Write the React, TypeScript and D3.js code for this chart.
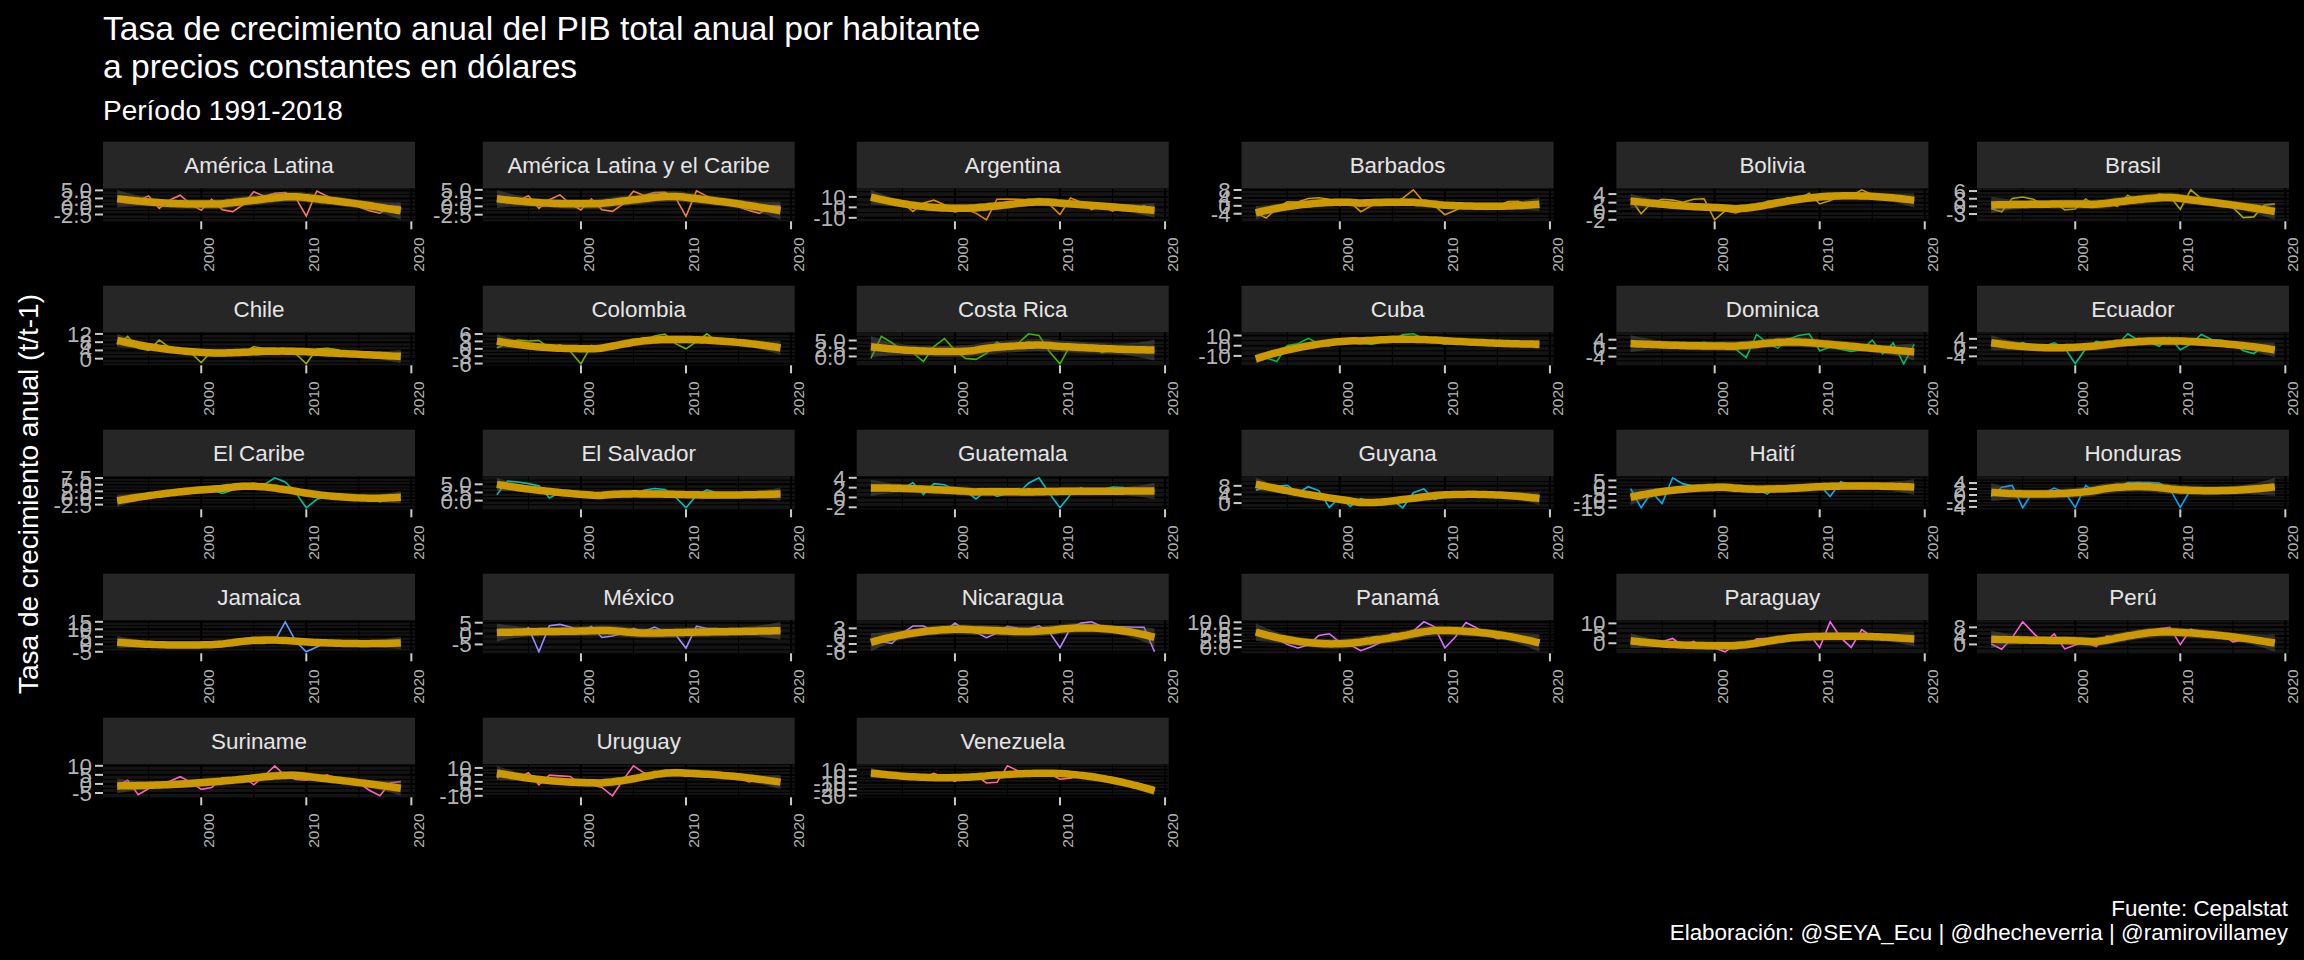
import React from 'react';
import * as d3 from 'd3';

// data: tasa de crecimiento anual del PIB por habitante (%), 1991-2018
const years = [1991, 1992, 1993, 1994, 1995, 1996, 1997, 1998, 1999, 2000, 2001, 2002, 2003, 2004,
  2005, 2006, 2007, 2008, 2009, 2010, 2011, 2012, 2013, 2014, 2015, 2016, 2017, 2018];

const countries = ['América Latina', 'América Latina y el Caribe', 'Argentina', 'Barbados', 'Bolivia', 'Brasil',
  'Chile', 'Colombia', 'Costa Rica', 'Cuba', 'Dominica', 'Ecuador',
  'El Caribe', 'El Salvador', 'Guatemala', 'Guyana', 'Haití', 'Honduras',
  'Jamaica', 'México', 'Nicaragua', 'Panamá', 'Paraguay', 'Perú',
  'Suriname', 'Uruguay', 'Venezuela'];

const americaLatina = [1.9, 1.3, 1.9, 3.3, -0.6, 2.0, 3.5, 0.7, -1.2, 2.3, -1.0, -1.6, 0.6, 4.6, 3.2, 4.1, 4.3, 2.7, -3.0, 4.8, 3.2, 1.6, 1.6, -0.1, -1.3, -2.1, 0.1, 0.0];
const americaLatinaCaribe = [1.8, 1.2, 1.8, 3.2, -0.6, 2.0, 3.5, 0.8, -1.1, 2.3, -1.0, -1.5, 0.7, 4.6, 3.3, 4.2, 4.3, 2.7, -3.0, 4.7, 3.1, 1.6, 1.6, -0.1, -1.2, -2.1, 0.1, 0.1];
const argentina = [8.9, 8.6, 4.6, 4.5, -4.0, 4.3, 6.9, 2.6, -4.5, -1.9, -5.5, -11.9, 7.8, 8.0, 7.8, 6.9, 7.7, 2.9, -6.9, 9.0, 4.9, -2.1, 1.3, -3.6, 1.6, -3.1, 1.7, -3.6];
const barbados = [-3.7, -6.2, -1.2, 2.0, 1.9, 3.7, 4.1, 3.3, 0.1, 1.6, -3.0, 0.0, 1.7, 1.2, 3.9, 8.1, 1.8, 0.2, -4.5, -2.2, 0.3, -0.6, -1.8, -0.4, 2.1, 2.3, 0.3, -0.8];
const bolivia = [2.9, -0.6, 2.0, 2.8, 2.6, 2.1, 2.8, 2.9, -2.0, 0.1, -0.4, 0.4, 0.7, 2.3, 2.6, 3.0, 2.8, 4.2, 1.7, 2.5, 3.6, 3.5, 5.0, 3.9, 3.3, 2.7, 2.6, 2.6];
const brasil = [-0.9, -2.1, 3.1, 3.7, 2.8, 0.7, 1.8, -1.4, -1.0, 2.9, -0.2, 1.6, -0.1, 4.4, 1.9, 2.8, 4.9, 4.0, -1.1, 6.5, 3.0, 1.0, 2.1, -0.4, -4.4, -4.1, 0.5, 1.0];
const chile = [6.8, 10.8, 5.0, 4.0, 9.0, 5.4, 5.2, 2.9, -1.9, 3.8, 2.0, 1.9, 2.8, 5.8, 4.9, 5.0, 3.8, 2.4, -2.5, 4.7, 5.0, 4.3, 2.9, 0.8, 1.2, 0.6, 0.3, 2.7];
const colombia = [0.3, 2.2, 3.6, 3.2, 3.4, 0.3, 1.6, -1.1, -6.1, 1.4, 0.2, 0.8, 2.4, 3.7, 3.3, 5.2, 6.0, 2.1, 0.0, 2.9, 6.1, 2.7, 3.8, 3.3, 1.8, 0.9, 0.2, 1.2];
const costaRica = [-0.6, 6.3, 4.3, 1.8, 1.2, -1.6, 3.1, 5.6, 1.9, -0.6, -0.9, 1.0, 4.5, 2.4, 4.0, 7.1, 6.6, 1.5, -2.3, 3.6, 2.9, 3.6, 1.1, 2.3, 2.5, 3.0, 2.2, 1.6];
const cuba = [-11.2, -12.0, -15.5, 0.2, 1.9, 7.3, 2.2, -0.1, 5.9, 5.5, 2.7, 1.3, 3.5, 5.5, 10.9, 11.7, 7.1, 3.9, 1.4, 2.4, 2.8, 2.9, 2.7, 1.0, 4.4, 0.5, 1.8, 2.2];
const dominica = [1.0, 2.5, 1.5, 1.8, 1.5, 2.5, 2.0, 2.8, 1.2, 0.8, -0.5, -4.5, 6.5, 2.5, 0.0, 4.2, 6.0, 6.8, -1.2, 0.4, -0.5, -1.5, -0.8, 3.8, -2.8, 2.5, -7.4, 1.8];
const ecuador = [2.8, 0.5, -0.3, 2.4, 0.2, 0.6, 2.2, -0.1, -7.4, -0.5, 2.9, 1.9, 1.2, 6.3, 3.4, 2.6, 0.6, 4.6, -1.0, 1.6, 6.0, 3.7, 3.3, 2.2, -1.4, -2.7, 0.8, -0.1];
const elCaribe = [-1.0, -1.5, 0.5, 1.5, 1.8, 2.5, 2.8, 3.0, 2.8, 3.2, 1.7, 3.0, 4.5, 4.0, 5.0, 7.6, 6.0, 2.0, -3.7, -0.5, 0.5, 0.5, 1.0, 0.6, 0.5, -1.5, -0.5, 1.3];
const elSalvador = [1.8, 6.0, 5.7, 5.2, 4.6, 0.8, 2.5, 2.0, 1.5, 1.2, 1.2, 1.9, 1.9, 1.5, 3.2, 3.7, 3.4, 1.1, -2.2, 1.6, 3.3, 2.3, 1.9, 1.2, 1.9, 2.0, 1.8, 2.0];
const guatemala = [1.3, 2.4, 1.5, 1.8, 3.0, 0.6, 2.8, 2.6, 1.5, 1.3, -0.3, 1.4, 0.2, 0.8, 0.8, 2.9, 4.0, 0.8, -2.1, 0.6, 2.0, 0.9, 1.6, 2.1, 2.0, 1.0, 0.8, 1.3];
const guyana = [6.0, 7.3, 7.8, 8.2, 4.8, 7.6, 5.8, -2.0, 2.7, -1.6, 2.1, 0.8, -0.9, 1.4, -2.2, 4.8, 6.6, 1.7, 3.0, 3.8, 4.9, 4.6, 4.4, 3.3, 2.6, 2.9, 1.6, 3.5];
const haiti = [-1.0, -15.2, -3.5, -12.0, 7.0, 2.5, 1.0, 0.7, 0.7, -0.8, -2.5, -1.7, -1.2, -5.0, 0.3, 0.8, 1.8, -0.4, 1.6, -6.9, 4.1, 1.5, 2.9, 1.4, 1.2, 0.1, -0.3, 0.1];
const honduras = [-0.6, 2.6, 3.2, -4.3, 1.2, 0.6, 2.3, 0.9, -4.2, 3.2, 0.6, 1.4, 2.1, 4.2, 4.2, 4.2, 4.0, 2.1, -4.2, 1.9, 1.8, 2.2, 0.9, 1.2, 2.2, 2.2, 3.1, 2.0];
const jamaica = [0.5, 1.0, 1.0, 0.5, 1.2, -0.8, -1.5, -1.5, -0.5, 0.2, 0.5, 0.5, 2.5, 0.6, 0.5, 2.3, 15.0, 2.0, -5.0, -1.8, 1.3, -0.8, 0.2, 0.3, 0.5, 1.1, 0.5, 1.5];
const mexico = [1.6, 1.2, -0.1, 2.7, -8.4, 3.6, 4.2, 3.0, 1.2, 3.3, -1.8, -1.1, 0.1, 2.4, 0.9, 3.0, 0.8, -0.4, -6.7, 3.4, 2.3, 2.3, -0.1, 1.5, 2.0, 1.4, 0.6, 0.8];
const nicaragua = [-2.2, -2.0, -2.8, 1.2, 3.9, 3.9, 1.9, 1.7, 5.0, 2.3, 1.5, -0.6, 1.2, 3.8, 3.0, 2.8, 3.9, 1.5, -4.4, 3.1, 5.0, 5.5, 3.7, 3.6, 3.6, 3.4, 3.4, -6.0];
const panama = [6.7, 6.1, 3.4, 1.1, -0.3, 0.9, 4.7, 5.4, 2.0, 0.9, -1.4, 0.2, 2.2, 5.5, 5.3, 6.5, 10.2, 8.3, -0.3, 4.1, 9.9, 7.8, 5.1, 3.4, 3.8, 3.3, 3.6, 1.9];
const paraguay = [0.0, -0.9, 1.4, 0.8, 2.4, -1.4, 0.9, -2.4, -2.4, -4.3, -0.3, -2.1, 2.2, 2.4, 0.3, 3.0, 3.5, 4.6, -2.2, 10.8, 2.8, -2.1, 6.9, 3.3, 1.6, 2.9, 3.5, 2.1];
const peru = [0.2, -2.3, 3.2, 10.6, 5.4, 0.7, 4.9, -2.1, -0.3, 1.0, -1.0, 4.0, 2.9, 3.8, 5.1, 6.3, 7.3, 8.0, -0.1, 7.1, 5.3, 4.9, 4.7, 1.2, 2.0, 2.3, 0.8, 2.2];
const suriname = [-0.8, 2.0, -6.0, -2.5, 0.5, 1.5, 4.0, 1.0, -3.0, -2.0, 3.5, 1.8, 4.0, -0.5, 4.5, 10.0, 4.5, 2.5, 2.0, 4.0, 5.0, 2.5, 1.5, 0.5, -3.5, -6.5, 0.5, 1.3];
const uruguay = [2.8, 7.2, 2.5, 6.6, -2.1, 4.8, 4.3, 3.9, -2.6, -2.1, -4.0, -10.0, 1.2, 11.5, 6.5, 4.0, 6.2, 6.9, 3.9, 7.5, 4.8, 3.2, 4.2, 2.9, 0.0, 1.3, 2.3, 1.2];
const venezuela = [7.1, 3.7, -2.0, -4.4, 1.8, -2.1, 4.3, -2.1, -7.9, 1.7, 1.4, -10.5, -9.5, 16.0, 8.3, 8.0, 6.8, 3.6, -4.8, -3.0, 2.7, 4.0, -0.1, -5.3, -7.6, -18.0, -17.5, -22.5];

const series = [americaLatina, americaLatinaCaribe, argentina, barbados, bolivia, brasil,
  chile, colombia, costaRica, cuba, dominica, ecuador,
  elCaribe, elSalvador, guatemala, guyana, haiti, honduras,
  jamaica, mexico, nicaragua, panama, paraguay, peru,
  suriname, uruguay, venezuela];

const xTicks = [2000, 2010, 2020];
const xMinor = [1995, 2005, 2015];

const colLeft = [103, 482.7, 856.7, 1241.6, 1616.4, 1977];
const rowTop = [141.7, 285.7, 429.7, 573.7, 717.7];
const panelW = 312;
const stripH = 46.6;
const panelH = 33;
const FONT = '"Liberation Sans", Arial, Helvetica, sans-serif';

// ggplot hue palette (polarLUV, c = 100, l = 65)
function hueColor(h: number, c = 100, l = 65) {
  const Xn = 95.047, Yn = 100, Zn = 108.883;
  const den = Xn + 15 * Yn + 3 * Zn;
  const un = 4 * Xn / den, vn = 9 * Yn / den;
  const hr = (h * Math.PI) / 180;
  const U = c * Math.cos(hr), V = c * Math.sin(hr);
  const Y = Yn * Math.pow((l + 16) / 116, 3);
  const u = U / (13 * l) + un;
  const v = V / (13 * l) + vn;
  const X = (9 * Y * u) / (4 * v);
  const Z = (Y * (12 - 3 * u - 20 * v)) / (4 * v);
  const x = X / 100, y = Y / 100, z = Z / 100;
  const lin = [
    3.240479 * x - 1.53715 * y - 0.498535 * z,
    -0.969256 * x + 1.875992 * y + 0.041556 * z,
    0.055648 * x - 0.204043 * y + 1.057311 * z,
  ];
  const g = lin.map(t => {
    const s = t <= 0.0031308 ? 12.92 * t : 1.055 * Math.pow(t, 1 / 2.4) - 0.055;
    return Math.round(Math.max(0, Math.min(1, s)) * 255);
  });
  return d3.rgb(g[0], g[1], g[2]).formatHex();
}
const palette = countries.map((_, i) => hueColor(15 + (360 / countries.length) * i));

// loess (degree 2, span 0.75) with 95% band, as geom_smooth does
function localWeights(xs: number[], x0: number, span = 0.75) {
  const n = xs.length;
  const q = Math.floor(n * span);
  const dist = xs.map(x => Math.abs(x - x0));
  const h = [...dist].sort((a, b) => a - b)[q - 1];
  const w = dist.map(d => (d < h ? Math.pow(1 - Math.pow(d / h, 3), 3) : 0));
  const S = [[0, 0, 0], [0, 0, 0], [0, 0, 0]];
  xs.forEach((x, i) => {
    const r = [1, x - x0, (x - x0) * (x - x0)];
    for (let a = 0; a < 3; a++) for (let b = 0; b < 3; b++) S[a][b] += w[i] * r[a] * r[b];
  });
  const [[a, b, c], [d, e, f], [g, hh, k]] = S;
  const det = a * (e * k - f * hh) - b * (d * k - f * g) + c * (d * hh - e * g);
  const i00 = (e * k - f * hh) / det;
  const i01 = -(b * k - c * hh) / det;
  const i02 = (b * f - c * e) / det;
  return xs.map((x, i) => w[i] * (i00 + i01 * (x - x0) + i02 * (x - x0) * (x - x0)));
}

function tQuantile(df: number) {
  const z = 1.959964;
  const g1 = (z ** 3 + z) / 4;
  const g2 = (5 * z ** 5 + 16 * z ** 3 + 3 * z) / 96;
  const g3 = (3 * z ** 7 + 19 * z ** 5 + 17 * z ** 3 - 15 * z) / 384;
  return z + g1 / df + g2 / df ** 2 + g3 / df ** 3;
}

function loessSmooth(xs: number[], ys: number[]) {
  const n = xs.length;
  const L = xs.map(x0 => localWeights(xs, x0));
  const fitted = L.map(l => d3.sum(l, (v, i) => v * ys[i]));
  const IL = L.map((row, i) => row.map((v, j) => (i === j ? 1 : 0) - v));
  const M = d3.range(n).map(a => d3.range(n).map(b => d3.sum(IL, r => r[a] * r[b])));
  const one = d3.sum(d3.range(n), i => M[i][i]);
  const two = d3.sum(M, r => d3.sum(r, v => v * v));
  const rss = d3.sum(ys, (v, i) => (v - fitted[i]) ** 2);
  const sigma = Math.sqrt(rss / one);
  const t = tQuantile((one * one) / two);
  const x0 = xs[0], x1 = xs[n - 1];
  return d3.range(80).map(k => {
    const x = x0 + ((x1 - x0) * k) / 79;
    const l = localWeights(xs, x);
    const fit = d3.sum(l, (v, i) => v * ys[i]);
    const se = sigma * Math.sqrt(d3.sum(l, v => v * v));
    return { x, y: fit, lo: fit - t * se, hi: fit + t * se };
  });
}

// labeling::extended, used by ggplot for breaks
function extendedBreaks(dmin: number, dmax: number, m = 5) {
  const Q = [1, 5, 2, 2.5, 4, 3];
  const w = [0.25, 0.2, 0.5, 0.05];
  const nq = Q.length;
  const range = dmax - dmin;
  let best = { lmin: dmin, lmax: dmax, lstep: range, score: -2 };
  let j = 1;
  while (j < Infinity) {
    for (let qi = 0; qi < nq; qi++) {
      const q = Q[qi];
      const sm = 1 - qi / (nq - 1) - j + 1;
      if (w[0] * sm + w[1] + w[2] + w[3] < best.score) { j = Infinity; break; }
      let k = 2;
      while (k < Infinity) {
        const dm = k >= m ? 2 - (k - 1) / (m - 1) : 1;
        if (w[0] * sm + w[1] + w[2] * dm + w[3] < best.score) break;
        const delta = range / (k + 1) / j / q;
        let z = Math.ceil(Math.log10(delta));
        while (z < Infinity) {
          const step = j * q * Math.pow(10, z);
          const span = step * (k - 1);
          let cm = 1;
          if (span > range) {
            const half = (span - range) / 2;
            cm = 1 - (0.5 * (2 * half * half)) / (0.1 * range) ** 2;
          }
          if (w[0] * sm + w[1] * cm + w[2] * dm + w[3] < best.score) break;
          const minStart = Math.floor(dmax / step) * j - (k - 1) * j;
          const maxStart = Math.ceil(dmin / step) * j;
          if (minStart > maxStart) { z++; continue; }
          for (let start = minStart; start <= maxStart; start++) {
            const lmin = start * (step / j);
            const lmax = lmin + step * (k - 1);
            const mod = ((lmin % step) + step) % step;
            const v = (mod < 1e-10 || step - mod < 1e-10) && lmin <= 0 && lmax >= 0 ? 1 : 0;
            const s = 1 - qi / (nq - 1) - j + v;
            const c = 1 - (0.5 * ((dmax - lmax) ** 2 + (dmin - lmin) ** 2)) / (0.1 * range) ** 2;
            const r = (k - 1) / (lmax - lmin);
            const rt = (m - 1) / (Math.max(lmax, dmax) - Math.min(dmin, lmin));
            const g = 2 - Math.max(r / rt, rt / r);
            const score = w[0] * s + w[1] * c + w[2] * g + w[3];
            if (score > best.score) best = { lmin, lmax, lstep: step, score };
          }
          z++;
        }
        k++;
      }
    }
    j++;
  }
  const out: number[] = [];
  for (let v = best.lmin; v <= best.lmax + best.lstep * 1e-6; v += best.lstep) out.push(Math.round(v * 1e8) / 1e8);
  return out;
}

function formatBreaks(bs: number[]) {
  let dec = 0;
  bs.forEach(b => {
    for (let d = 0; d < 4; d++) {
      const s = b * 10 ** d;
      if (Math.abs(Math.round(s) - s) < 1e-6) { dec = Math.max(dec, d); break; }
    }
  });
  return bs.map(b => (Math.abs(b) < 1e-9 ? 0 : b).toFixed(dec));
}

const xVals = years.map(y => y + 364 / 365); // fechas 31-dic de cada año

function Panel({ idx }: { idx: number }) {
  const name = countries[idx];
  const values = series[idx];
  const color = palette[idx];
  const left = colLeft[idx % 6];
  const top = rowTop[Math.floor(idx / 6)];
  const pTop = top + stripH;
  const pBot = pTop + panelH;

  const sm = loessSmooth(xVals, values);
  const lo = Math.min(d3.min(values)!, d3.min(sm, d => d.lo)!);
  const hi = Math.max(d3.max(values)!, d3.max(sm, d => d.hi)!);
  const xr = xVals[xVals.length - 1] - xVals[0];
  const x = d3.scaleLinear()
    .domain([xVals[0] - 0.05 * xr, xVals[xVals.length - 1] + 0.05 * xr])
    .range([left, left + panelW]);
  const yr = hi - lo;
  const dom = [lo - 0.05 * yr, hi + 0.05 * yr];
  const y = d3.scaleLinear().domain(dom).range([pBot, pTop]);

  const breaks = extendedBreaks(lo, hi).filter(b => b >= lo - 1e-9 && b <= hi + 1e-9);
  const labels = formatBreaks(breaks);
  const bd = breaks.length > 1 ? breaks[1] - breaks[0] : 1;
  let ext = [...breaks];
  if (dom[0] < ext[0]) ext = [ext[0] - bd, ...ext];
  if (dom[1] > ext[ext.length - 1]) ext = [...ext, ext[ext.length - 1] + bd];
  const minor = ext.slice(1).map((b, i) => (b + ext[i]) / 2).filter(b => b > dom[0] && b < dom[1]);

  const line = d3.line<number>().x((_, i) => x(xVals[i])).y(d => y(d));
  const area = d3.area<{ x: number; lo: number; hi: number }>()
    .x(d => x(d.x)).y0(d => y(d.lo)).y1(d => y(d.hi));
  const smoothLine = d3.line<{ x: number; y: number }>().x(d => x(d.x)).y(d => y(d.y));
  const clip = `clip-${idx}`;

  return (
    <g>
      <rect x={left} y={top} width={panelW} height={stripH} fill="#262626" />
      <text x={left + panelW / 2} y={top + stripH / 2} dy="0.36em" textAnchor="middle"
        fill="#e5e5e5" fontSize={22.4} fontFamily={FONT}>{name}</text>
      <clipPath id={clip}><rect x={left} y={pTop} width={panelW} height={panelH} /></clipPath>
      <rect x={left} y={pTop} width={panelW} height={panelH} fill="#141414" />
      <g clipPath={`url(#${clip})`}>
        {minor.map(b => (
          <line key={`ym${b}`} x1={left} x2={left + panelW} y1={y(b)} y2={y(b)} stroke="#000" strokeWidth={1} />
        ))}
        {xMinor.map(t => (
          <line key={`xm${t}`} x1={x(t)} x2={x(t)} y1={pTop} y2={pBot} stroke="#000" strokeWidth={1} />
        ))}
        {breaks.map(b => (
          <line key={`yM${b}`} x1={left} x2={left + panelW} y1={y(b)} y2={y(b)} stroke="#000" strokeWidth={2} />
        ))}
        {xTicks.map(t => (
          <line key={`xM${t}`} x1={x(t)} x2={x(t)} y1={pTop} y2={pBot} stroke="#000" strokeWidth={2} />
        ))}
        <path d={line(values) || ''} fill="none" stroke={color} strokeWidth={1.6} />
        <path d={area(sm) || ''} fill="#666666" fillOpacity={0.4} />
        <path d={smoothLine(sm) || ''} fill="none" stroke="#CC9900" strokeWidth={7.5} />
      </g>
      {breaks.map((b, i) => (
        <g key={`yt${b}`}>
          <line x1={left - 8} x2={left} y1={y(b)} y2={y(b)} stroke="#cccccc" strokeWidth={2} />
          <text x={left - 11} y={y(b)} dy="0.36em" textAnchor="end" fill="#b3b3b3"
            fontSize={22.4} fontFamily={FONT}>{labels[i]}</text>
        </g>
      ))}
      {xTicks.map(t => (
        <g key={`xt${t}`}>
          <line x1={x(t)} x2={x(t)} y1={pBot} y2={pBot + 8} stroke="#cccccc" strokeWidth={2} />
          <text transform={`translate(${x(t) + 13},${pBot + 16}) rotate(-90)`} textAnchor="end"
            fill="#b3b3b3" fontSize={15.5} fontFamily={FONT}>{t}</text>
        </g>
      ))}
    </g>
  );
}

export default function App() {
  return (
    <svg width={2304} height={960} style={{ position: 'absolute', left: 0, top: 0, background: '#000' }}>
      <rect width={2304} height={960} fill="#000" />
      <text x={103} y={40} fill="#fff" fontSize={33.6} fontFamily={FONT}>
        Tasa de crecimiento anual del PIB total anual por habitante
      </text>
      <text x={103} y={78} fill="#fff" fontSize={33.6} fontFamily={FONT}>a precios constantes en dólares</text>
      <text x={103} y={120} fill="#fff" fontSize={28} fontFamily={FONT}>Período 1991-2018</text>
      <text transform="translate(38,494) rotate(-90)" textAnchor="middle" fill="#fff" fontSize={28} fontFamily={FONT}>
        Tasa de crecimiento anual (t/t-1)
      </text>
      {countries.map((_, i) => <Panel key={i} idx={i} />)}
      <text x={2288} y={916} textAnchor="end" fill="#fff" fontSize={22.4} fontFamily={FONT}>Fuente: Cepalstat</text>
      <text x={2288} y={940} textAnchor="end" fill="#fff" fontSize={22.4} fontFamily={FONT}>
        Elaboración: @SEYA_Ecu | @dhecheverria | @ramirovillamey
      </text>
    </svg>
  );
}
